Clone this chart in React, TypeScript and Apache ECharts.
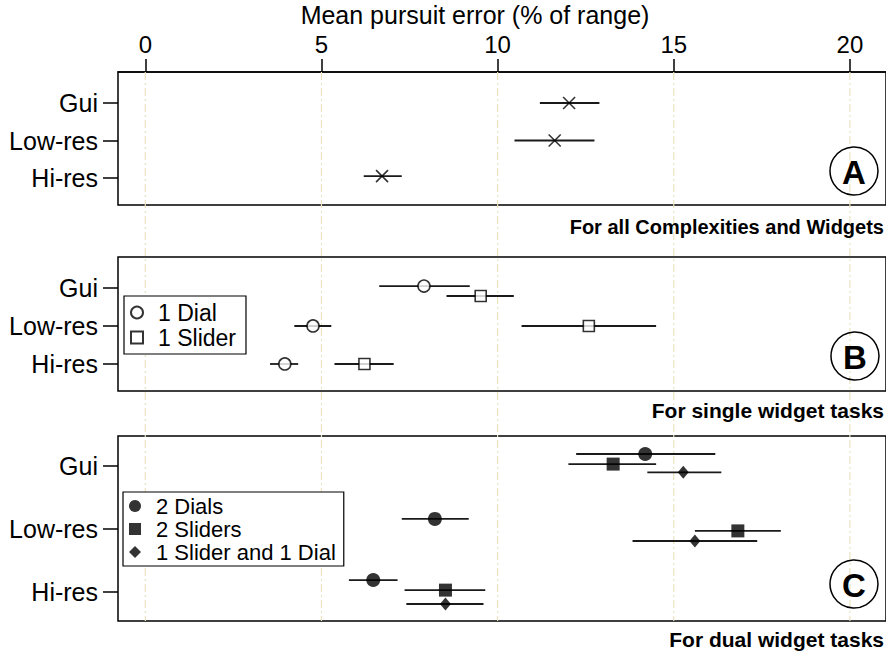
import React, { useEffect, useRef } from "react";
import * as echarts from "echarts";

// y positions: 1 = Hi-res, 2 = Low-res, 3 = Gui
const categories = ["Hi-res", "Low-res", "Gui"];
const catValues = [1, 2, 3];
const xTicks = [0, 5, 10, 15, 20];

// Panel A: all complexities and widgets (order: Hi-res, Low-res, Gui)
const allMean = [6.72, 11.62, 12.03];
const allLo = [6.2, 10.48, 11.2];
const allHi = [7.28, 12.75, 12.89];
const allRow = [1.05, 2.0, 3.0];

// Panel B: single widget tasks
const dial1Mean = [3.96, 4.76, 7.91];
const dial1Lo = [3.54, 4.23, 6.64];
const dial1Hi = [4.34, 5.28, 9.21];
const dial1Row = [1.0, 2.0, 3.05];

const slider1Mean = [6.22, 12.59, 9.52];
const slider1Lo = [5.37, 10.68, 8.55];
const slider1Hi = [7.05, 14.5, 10.46];
const slider1Row = [1.0, 2.0, 2.79];

// Panel C: dual widget tasks
const dial2Mean = [6.47, 8.22, 14.19];
const dial2Lo = [5.78, 7.28, 12.23];
const dial2Hi = [7.16, 9.18, 16.18];
const dial2Row = [1.19, 2.16, 3.19];

const slider2Mean = [8.52, 16.82, 13.28];
const slider2Lo = [7.36, 15.6, 12.01];
const slider2Hi = [9.65, 18.04, 14.5];
const slider2Row = [1.03, 1.97, 3.03];

const mixedMean = [8.52, 15.6, 15.27];
const mixedLo = [7.41, 13.83, 14.25];
const mixedHi = [9.6, 17.37, 16.35];
const mixedRow = [0.81, 1.81, 2.9];

const FONT = '"Liberation Sans", Arial, Helvetica, sans-serif';
const X_MIN = -0.775;
const X_MAX = 21.025;

export default function App() {
  const ref = useRef<HTMLDivElement>(null);

  useEffect(() => {
    if (!ref.current) return;
    const chart = echarts.init(ref.current, null, { renderer: "svg" });

    const errorBar = (name: string, g: number, lo: number[], hi: number[], row: number[]) => ({
      type: "custom",
      name: name + " CI",
      xAxisIndex: g,
      yAxisIndex: g,
      silent: true,
      z: 2,
      data: lo.map((l, i) => [l, hi[i], row[i]]),
      encode: { x: [0, 1], y: 2 },
      renderItem: (params: any, api: any) => {
        const a = api.coord([api.value(0), api.value(2)]);
        const b = api.coord([api.value(1), api.value(2)]);
        return {
          type: "line",
          shape: { x1: a[0], y1: a[1], x2: b[0], y2: b[1] },
          style: { stroke: "#1a1a1a", lineWidth: 1.8 },
        };
      },
    });

    const marker = (
      name: string,
      g: number,
      mean: number[],
      row: number[],
      symbol: string,
      size: number | number[],
      itemStyle: any
    ) => ({
      type: "scatter",
      name,
      xAxisIndex: g,
      yAxisIndex: g,
      z: 3,
      silent: true,
      symbol,
      symbolSize: size,
      itemStyle,
      data: mean.map((m, i) => [m, row[i]]),
    });

    const hollow = { color: "#fff", borderColor: "#000", borderWidth: 1.6 };
    const filled = { color: "#000", borderColor: "#000", borderWidth: 0 };

    const panelTops = [72, 257, 436];
    const panelHeights = [133, 134, 185];
    const yRanges = [
      [0.28, 3.827],
      [0.289, 3.816],
      [0.54, 3.476],
    ];

    const grids: any[] = [
      { left: 118, width: 788, top: 72, height: 549, show: false },
      ...panelTops.map((t, i) => ({
        left: 118,
        width: 788,
        top: t,
        height: panelHeights[i],
        show: true,
        borderColor: "#000",
        borderWidth: 1.5,
        backgroundColor: "transparent",
      })),
    ];

    const xAxes: any[] = [
      {
        type: "value",
        gridIndex: 0,
        position: "top",
        min: X_MIN,
        max: X_MAX,
        axisLine: { show: true, onZero: false, lineStyle: { color: "#000", width: 1.5 } },
        axisTick: { show: true, customValues: xTicks, length: 13, lineStyle: { color: "#000", width: 1.5 } },
        axisLabel: { customValues: xTicks, fontSize: 24, color: "#000", margin: 16, fontFamily: FONT },
        splitLine: { show: false },
      },
      ...[1, 2, 3].map((g) => ({
        type: "value",
        gridIndex: g,
        min: X_MIN,
        max: X_MAX,
        show: false,
        axisLine: { onZero: false },
      })),
    ];

    const yAxes: any[] = [
      { type: "value", gridIndex: 0, min: 0, max: 1, show: false, axisLine: { onZero: false } },
      ...[1, 2, 3].map((g) => ({
        type: "value",
        gridIndex: g,
        position: "left",
        min: yRanges[g - 1][0],
        max: yRanges[g - 1][1],
        axisLine: { show: false, onZero: false },
        axisTick: { show: true, customValues: catValues, length: 15, lineStyle: { color: "#000", width: 1.5 } },
        axisLabel: {
          customValues: catValues,
          formatter: (v: number) => categories[Math.round(v) - 1] ?? "",
          fontSize: 25,
          color: "#000",
          margin: 20,
          fontFamily: FONT,
        },
        splitLine: { show: false },
      })),
    ];

    const xPath = "path://M0,0L10,10M10,0L0,10";

    const series: any[] = [
      {
        type: "custom",
        name: "gridlines",
        xAxisIndex: 0,
        yAxisIndex: 0,
        silent: true,
        z: 1,
        data: xTicks.map((v) => [v]),
        encode: { x: 0 },
        renderItem: (params: any, api: any) => {
          const cs = params.coordSys;
          const p = api.coord([api.value(0), 0]);
          return {
            type: "line",
            shape: { x1: p[0], y1: cs.y, x2: p[0], y2: cs.y + cs.height },
            style: { stroke: "#ece3c2", lineWidth: 1.2, lineDash: [8, 3, 2, 3] },
          };
        },
      },
      errorBar("All", 1, allLo, allHi, allRow),
      marker("All", 1, allMean, allRow, xPath, 12, { color: "none", borderColor: "#000", borderWidth: 1.6 }),
      errorBar("1 Dial", 2, dial1Lo, dial1Hi, dial1Row),
      errorBar("1 Slider", 2, slider1Lo, slider1Hi, slider1Row),
      marker("1 Dial", 2, dial1Mean, dial1Row, "circle", 12, hollow),
      marker("1 Slider", 2, slider1Mean, slider1Row, "rect", 11, hollow),
      errorBar("2 Dials", 3, dial2Lo, dial2Hi, dial2Row),
      errorBar("2 Sliders", 3, slider2Lo, slider2Hi, slider2Row),
      errorBar("1 Slider and 1 Dial", 3, mixedLo, mixedHi, mixedRow),
      marker("2 Dials", 3, dial2Mean, dial2Row, "circle", 14, filled),
      marker("2 Sliders", 3, slider2Mean, slider2Row, "rect", 13, filled),
      marker("1 Slider and 1 Dial", 3, mixedMean, mixedRow, "diamond", [11, 13], filled),
    ];

    const legendBase = {
      orient: "vertical",
      selectedMode: false,
      borderColor: "#000",
      borderWidth: 1.2,
      borderRadius: 0,
      backgroundColor: "#fff",
      itemWidth: 12,
      itemHeight: 12,
    };

    const circled = (letter: string, cx: number, cy: number) => [
      {
        type: "circle",
        shape: { cx, cy, r: 24 },
        style: { fill: "none", stroke: "#000", lineWidth: 1.5 },
        z: 10,
      },
      {
        type: "text",
        x: cx,
        y: cy + 1,
        z: 10,
        style: {
          text: letter,
          fontSize: 33,
          fontWeight: "bold",
          fontFamily: FONT,
          fill: "#000",
          align: "center",
          verticalAlign: "middle",
          textAlign: "center",
          textVerticalAlign: "middle",
        },
      },
    ];

    const label = (text: string, x: number, y: number, bold: boolean, align: string, size: number) => ({
      type: "text",
      x,
      y,
      z: 10,
      style: {
        text,
        fontSize: size,
        fontWeight: bold ? "bold" : "normal",
        fontFamily: FONT,
        fill: "#000",
        align,
        verticalAlign: "middle",
        textAlign: align,
        textVerticalAlign: "middle",
      },
    });

    chart.setOption({
      animation: false,
      textStyle: { fontFamily: FONT },
      grid: grids,
      xAxis: xAxes,
      yAxis: yAxes,
      legend: [
        {
          ...legendBase,
          left: 124,
          top: 296,
          padding: [5, 10, 5, 6],
          itemGap: 2,
          textStyle: { fontSize: 23, color: "#000", fontFamily: FONT, padding: [0, 0, 0, 10] },
          data: [
            { name: "1 Dial", icon: "circle" },
            { name: "1 Slider", icon: "rect" },
          ],
        },
        {
          ...legendBase,
          left: 123,
          top: 492,
          padding: [3, 8, 3, 6],
          itemGap: 1,
          textStyle: { fontSize: 22, color: "#000", fontFamily: FONT, padding: [0, 0, 0, 10] },
          data: [
            { name: "2 Dials", icon: "circle" },
            { name: "2 Sliders", icon: "rect" },
            { name: "1 Slider and 1 Dial", icon: "diamond" },
          ],
        },
      ],
      graphic: [
        label("Mean pursuit error (% of range)", 475, 15, false, "center", 25),
        label("For all Complexities and Widgets", 884, 227, true, "right", 20),
        label("For single widget tasks", 884, 410, true, "right", 21),
        label("For dual widget tasks", 884, 639, true, "right", 21),
        ...circled("A", 854, 171),
        ...circled("B", 855, 356),
        ...circled("C", 854, 584),
      ],
      series,
    });

    return () => chart.dispose();
  }, []);

  return (
    <div
      ref={ref}
      style={{ position: "fixed", left: 0, top: 0, width: 886, height: 655, background: "#fff" }}
    />
  );
}
